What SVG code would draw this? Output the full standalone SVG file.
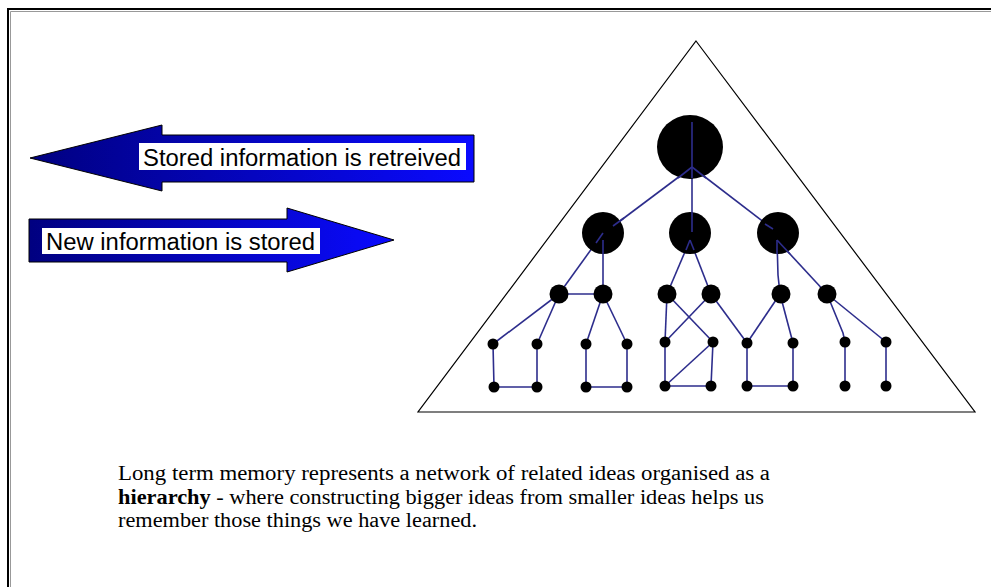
<svg xmlns="http://www.w3.org/2000/svg" width="991" height="587" viewBox="0 0 991 587">
<defs>
<linearGradient id="blueGrad" x1="0" y1="0" x2="1" y2="0">
<stop offset="0" stop-color="#000080"/>
<stop offset="1" stop-color="#0a0aff"/>
</linearGradient>
<style>
.frame{stroke:#000;stroke-width:2;fill:none}
.frame2{stroke:#999;stroke-width:1;fill:none}
.arrow{fill:url(#blueGrad);stroke:#000;stroke-width:1}
.lbox{fill:#fff}
.ltext{font-family:"Liberation Sans",Arial,sans-serif;font-size:23px;fill:#000}
.tri{fill:none;stroke:#000;stroke-width:1.2}
.edge{stroke:#2d2d8c;stroke-width:1.6;fill:none}
.node{fill:#000}
.body{font-family:"Liberation Serif","Times New Roman",serif;font-size:20px;fill:#000}
</style>
</defs>
<rect width="991" height="587" fill="#fff"/>
<g id="frame">
<polyline class="frame" points="8,587 8,9 991,9"/>
<polyline class="frame2" points="10.5,587 10.5,11.5 991,11.5"/>
</g>
<g id="arrow-retrieved">
<polygon class="arrow" points="30,158 162,125 162,135 474,135 474,182 162,182 162,191"/>
<rect class="lbox" x="139" y="143" width="327" height="27"/>
<text class="ltext" x="143" y="166" textLength="318" lengthAdjust="spacingAndGlyphs">Stored information is retreived</text>
</g>
<g id="arrow-stored">
<polygon class="arrow" points="29,219 287,219 287,208 394,240 287,272 287,262 29,262"/>
<rect class="lbox" x="42" y="228" width="278" height="26"/>
<text class="ltext" x="46" y="250" textLength="269" lengthAdjust="spacingAndGlyphs">New information is stored</text>
</g>
<g id="triangle">
<polygon class="tri" points="696,41 975,412 418,412"/>
</g>
<g id="connectors">
<line class="edge" x1="692" y1="122" x2="692" y2="232"/>
<line class="edge" x1="692" y1="167" x2="604" y2="233"/>
<line class="edge" x1="692" y1="167" x2="778" y2="233"/>
<line class="edge" x1="603" y1="233" x2="559" y2="294"/>
<line class="edge" x1="603" y1="233" x2="603" y2="294"/>
<line class="edge" x1="559" y1="294" x2="603" y2="294"/>
<line class="edge" x1="690" y1="240" x2="667" y2="294"/>
<line class="edge" x1="690" y1="240" x2="711" y2="294"/>
<polyline class="edge" points="777,240 778,275 780,294"/>
<line class="edge" x1="777" y1="240" x2="827" y2="294"/>
<line class="edge" x1="559" y1="294" x2="493" y2="344"/>
<line class="edge" x1="559" y1="294" x2="537" y2="344"/>
<line class="edge" x1="603" y1="294" x2="586" y2="344"/>
<line class="edge" x1="603" y1="294" x2="627" y2="344"/>
<polyline class="edge" points="493,344 494,387 537,387 537,344"/>
<polyline class="edge" points="586,344 586,387 627,387 627,344"/>
<line class="edge" x1="667" y1="294" x2="665" y2="342"/>
<line class="edge" x1="667" y1="294" x2="713" y2="342"/>
<line class="edge" x1="711" y1="294" x2="665" y2="342"/>
<line class="edge" x1="711" y1="294" x2="747" y2="343"/>
<polyline class="edge" points="665,342 665,386 711,386 713,342"/>
<line class="edge" x1="665" y1="386" x2="713" y2="342"/>
<line class="edge" x1="780" y1="294" x2="747" y2="343"/>
<line class="edge" x1="780" y1="294" x2="793" y2="343"/>
<polyline class="edge" points="747,343 747,386 793,386 793,343"/>
<polyline class="edge" points="827,294 843,333 845,342"/>
<line class="edge" x1="827" y1="294" x2="886" y2="342"/>
<line class="edge" x1="845" y1="342" x2="845" y2="386"/>
<line class="edge" x1="886" y1="342" x2="886" y2="386"/>
</g>
<g id="node-root"><ellipse class="node" cx="690" cy="147" rx="33" ry="32"/><line class="edge" x1="692" y1="122" x2="692" y2="178"/><line class="edge" x1="692" y1="167" x2="678" y2="178"/><line class="edge" x1="692" y1="167" x2="706" y2="178"/></g>
<g id="node-l2a"><circle class="node" cx="603" cy="233" r="21"/><line class="edge" x1="613" y1="226" x2="624" y2="218"/><line class="edge" x1="603" y1="240" x2="603" y2="254"/><line class="edge" x1="603" y1="233" x2="596" y2="243"/></g>
<g id="node-l2b"><circle class="node" cx="690" cy="233" r="21"/><line class="edge" x1="692" y1="212" x2="692" y2="232"/><line class="edge" x1="690" y1="240" x2="686" y2="250"/><line class="edge" x1="690" y1="240" x2="694" y2="250"/></g>
<g id="node-l2c"><circle class="node" cx="778" cy="233" r="21"/><line class="edge" x1="765" y1="224" x2="773" y2="229"/><line class="edge" x1="777" y1="240" x2="777" y2="254"/><line class="edge" x1="777" y1="240" x2="790" y2="254"/></g>
<g id="node-l3a"><circle class="node" cx="559" cy="294" r="9.5"/></g>
<g id="node-l3b"><circle class="node" cx="603" cy="294" r="9.5"/></g>
<g id="node-l3c"><circle class="node" cx="667" cy="294" r="9.5"/></g>
<g id="node-l3d"><circle class="node" cx="711" cy="294" r="9.5"/></g>
<g id="node-l3e"><circle class="node" cx="781" cy="294" r="9.5"/></g>
<g id="node-l3f"><circle class="node" cx="827" cy="294" r="9.5"/></g>
<g id="node-l4a"><circle class="node" cx="493" cy="344" r="5.5"/></g>
<g id="node-l4b"><circle class="node" cx="537" cy="344" r="5.5"/></g>
<g id="node-l4c"><circle class="node" cx="586" cy="344" r="5.5"/></g>
<g id="node-l4d"><circle class="node" cx="627" cy="344" r="5.5"/></g>
<g id="node-l4e"><circle class="node" cx="665" cy="342" r="5.5"/></g>
<g id="node-l4f"><circle class="node" cx="713" cy="342" r="5.5"/></g>
<g id="node-l4g"><circle class="node" cx="747" cy="343" r="5.5"/></g>
<g id="node-l4h"><circle class="node" cx="793" cy="343" r="5.5"/></g>
<g id="node-l4i"><circle class="node" cx="845" cy="342" r="5.5"/></g>
<g id="node-l4j"><circle class="node" cx="886" cy="342" r="5.5"/></g>
<g id="node-l5a"><circle class="node" cx="494" cy="387" r="5.5"/></g>
<g id="node-l5b"><circle class="node" cx="537" cy="387" r="5.5"/></g>
<g id="node-l5c"><circle class="node" cx="586" cy="387" r="5.5"/></g>
<g id="node-l5d"><circle class="node" cx="627" cy="387" r="5.5"/></g>
<g id="node-l5e"><circle class="node" cx="665" cy="386" r="5.5"/></g>
<g id="node-l5f"><circle class="node" cx="711" cy="386" r="5.5"/></g>
<g id="node-l5g"><circle class="node" cx="747" cy="386" r="5.5"/></g>
<g id="node-l5h"><circle class="node" cx="793" cy="386" r="5.5"/></g>
<g id="node-l5i"><circle class="node" cx="845" cy="386" r="5.5"/></g>
<g id="node-l5j"><circle class="node" cx="886" cy="386" r="5.5"/></g>
<g id="caption">
<text class="body" x="118" y="480" textLength="652" lengthAdjust="spacingAndGlyphs">Long term memory represents a network of related ideas organised as a</text>
<text class="body" x="118" y="504" textLength="646" lengthAdjust="spacingAndGlyphs"><tspan font-weight="bold">hierarchy</tspan> - where constructing bigger ideas from smaller ideas helps us</text>
<text class="body" x="118" y="527" textLength="359" lengthAdjust="spacingAndGlyphs">remember those things we have learned.</text>
</g>
</svg>
